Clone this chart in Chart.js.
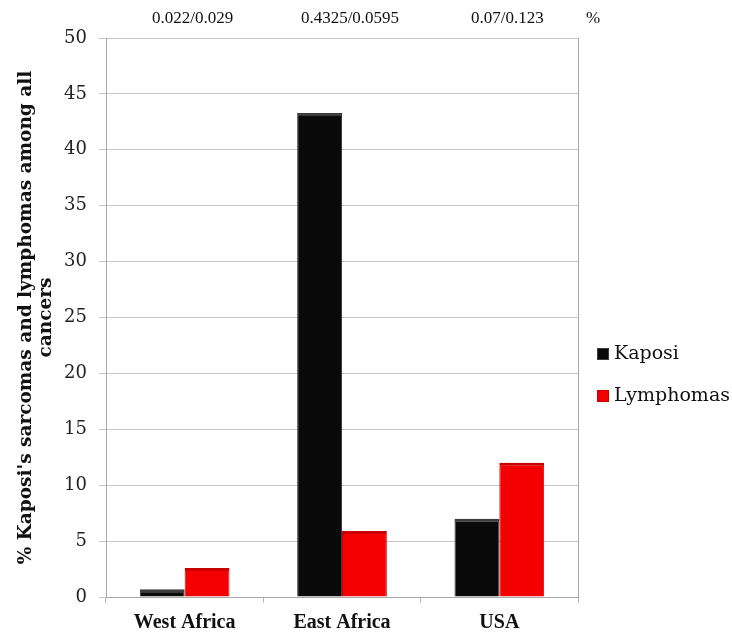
<!DOCTYPE html>
<html>
<head>
<meta charset="utf-8">
<script src="https://cdn.jsdelivr.net/npm/chart.js@4"></script>
<style>
  html, body { margin: 0; padding: 0; background: #fff; }
  #wrap { width: 732px; height: 634px; position: relative; }
</style>
</head>
<body>
<div id="wrap"><canvas id="chart"></canvas></div>
<script>
// data
const regions = ['West Africa', 'East Africa', 'USA'];
const kaposi = [0.7, 43.3, 7.0];
const lymphomas = [2.6, 5.9, 12.0];
const ratioLabels = ['0.022/0.029', '0.4325/0.0595', '0.07/0.123'];
const ratioUnit = '%';

const times = '"Liberation Serif", "DejaVu Serif", serif';
const cambria = '"DejaVu Serif", "Liberation Serif", serif';

// labels above the plot + legend on the right
const extrasPlugin = {
    id: 'extras',
    afterDraw(chart) {
        const ctx = chart.ctx;
        const x = chart.scales.x;
        ctx.save();
        ctx.fillStyle = '#111';
        ctx.font = '17px ' + times;
        ctx.textAlign = 'center';
        ctx.textBaseline = 'middle';
        ratioLabels.forEach((t, i) => {
            ctx.fillText(t, x.getPixelForValue(i) + 8, 19);
        });
        ctx.fillText(ratioUnit, chart.chartArea.right + 15, 19);

        // legend
        ctx.textAlign = 'left';
        ctx.font = '19px ' + cambria;
        chart.data.datasets.forEach((ds, i) => {
            const y = 354 + i * 42;
            ctx.fillStyle = ds.backgroundColor;
            ctx.fillRect(597, y - 6, 12, 12);
            ctx.strokeStyle = ds.borderColor;
            ctx.lineWidth = 1;
            ctx.strokeRect(597.5, y - 5.5, 11, 11);
            ctx.fillStyle = '#111';
            ctx.fillText(ds.label, 614, y);
        });
        ctx.restore();
    }
};

new Chart(document.getElementById('chart'), {
    type: 'bar',
    data: {
        labels: regions,
        datasets: [
            { label: 'Kaposi', data: kaposi, backgroundColor: '#0a0a0a', borderColor: '#3c3c3c',
              borderWidth: { top: 3, left: 1, right: 1, bottom: 0 } },
            { label: 'Lymphomas', data: lymphomas, backgroundColor: '#f50000', borderColor: '#c80000',
              borderWidth: { top: 3, left: 1, right: 1, bottom: 0 } }
        ]
    },
    options: {
        responsive: true,
        maintainAspectRatio: false,
        animation: false,
        layout: { padding: { top: 38, right: 154, left: 0, bottom: 0 } },
        datasets: { bar: { categoryPercentage: 0.57, barPercentage: 1.0 } },
        scales: {
            x: {
                grid: { display: true, offset: true, color: '#b8b8b8', drawOnChartArea: false, tickLength: 6 },
                border: { color: '#a8a8a8' },
                ticks: { color: '#111', font: { family: times, size: 20, weight: 'bold' }, padding: 8 },
                afterFit(s) { s.height = 37; }
            },
            y: {
                min: 0, max: 50,
                ticks: { stepSize: 5, color: '#222', font: { family: cambria, size: 18 }, padding: 12 },
                grid: { color: '#c4c4c4', tickLength: 7 },
                border: { color: '#a8a8a8' },
                title: {
                    display: true,
                    text: ["% Kaposi's sarcomas and lymphomas among all", 'cancers'],
                    color: '#111',
                    font: { family: cambria, size: 18.5, weight: 'bold', lineHeight: 1.1 },
                    padding: { top: 16, bottom: 0 }
                },
                afterFit(s) { s.width = 106; }
            }
        },
        plugins: {
            legend: { display: false },
            tooltip: { enabled: false }
        }
    },
    plugins: [extrasPlugin, {
        id: 'rightBorder',
        beforeDatasetsDraw(chart) {
            const { ctx, chartArea } = chart;
            ctx.save();
            ctx.strokeStyle = '#a8a8a8';
            ctx.lineWidth = 1;
            ctx.beginPath();
            ctx.moveTo(chartArea.right + 0.5, chartArea.top);
            ctx.lineTo(chartArea.right + 0.5, chartArea.bottom);
            ctx.stroke();
            ctx.restore();
        }
    }]
});
</script>
</body>
</html>
